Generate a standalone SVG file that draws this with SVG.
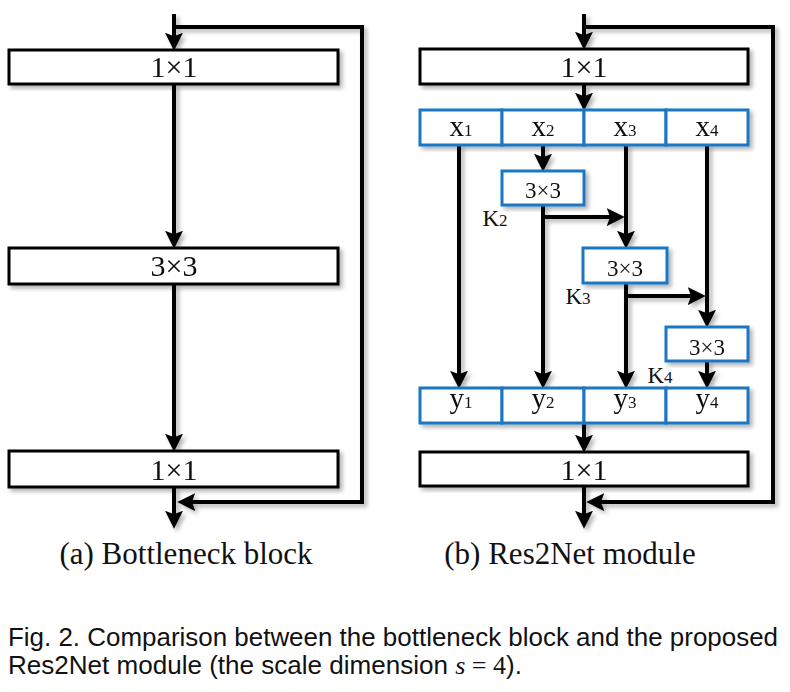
<svg xmlns="http://www.w3.org/2000/svg" width="790" height="692" viewBox="0 0 790 692">
<style>
.box{fill:#fff;stroke:#000;stroke-width:3}
.bbox{fill:#fff;stroke:#1a76c2;stroke-width:3}
.ln{fill:none;stroke:#000;stroke-width:4}
.t{font-family:"Liberation Serif","Times New Roman",serif;fill:#111;text-anchor:middle}
.big{font-size:30px}
.sm{font-size:23px}
.lab{font-size:29px}
.sub{font-size:17px}
.cap{font-family:"Liberation Serif","Times New Roman",serif;font-size:31px;fill:#111;text-anchor:middle}
.fig{font-family:"Liberation Sans",Arial,sans-serif;font-size:25px;fill:#111}
</style>
<defs>
<marker id="ah" markerUnits="userSpaceOnUse" markerWidth="18" markerHeight="18" refX="10" refY="8" orient="auto" viewBox="0 0 16 16">
<path d="M0,0 L16,8 L0,16 L3,8 z" fill="#000"/>
</marker>
<filter id="sh" x="-10%" y="-10%" width="130%" height="130%">
<feDropShadow dx="3" dy="3" stdDeviation="2" flood-color="#000" flood-opacity="0.3"/>
</filter>
</defs>

<g id="connectors" filter="url(#sh)">
<path class="ln" d="M174,14 V44" marker-end="url(#ah)"/>
<path class="ln" d="M174,27 H362 V502 H184" marker-end="url(#ah)"/>
<path class="ln" d="M174,84 V242" marker-end="url(#ah)"/>
<path class="ln" d="M174,284 V445" marker-end="url(#ah)"/>
<path class="ln" d="M174,487 V522" marker-end="url(#ah)"/>

<path class="ln" d="M584,14 V43" marker-end="url(#ah)"/>
<path class="ln" d="M584,27 H773 V502 H593" marker-end="url(#ah)"/>
<path class="ln" d="M584,84 V104" marker-end="url(#ah)"/>
<path class="ln" d="M459,145 V382" marker-end="url(#ah)"/>
<path class="ln" d="M543,145 V165" marker-end="url(#ah)"/>
<path class="ln" d="M543,205 V382" marker-end="url(#ah)"/>
<path class="ln" d="M543,217 H618" marker-end="url(#ah)"/>
<path class="ln" d="M626,145 V242" marker-end="url(#ah)"/>
<path class="ln" d="M626,283 V382" marker-end="url(#ah)"/>
<path class="ln" d="M626,296 H699" marker-end="url(#ah)"/>
<path class="ln" d="M707,145 V321" marker-end="url(#ah)"/>
<path class="ln" d="M707,361 V382" marker-end="url(#ah)"/>
<path class="ln" d="M584,423 V446" marker-end="url(#ah)"/>
<path class="ln" d="M584,486 V522" marker-end="url(#ah)"/>
</g>

<g id="a-conv1" filter="url(#sh)">
<rect class="box" x="9" y="50" width="329" height="34"/>
<text class="t big" x="174" y="77">1×1</text>
</g>
<g id="a-conv3" filter="url(#sh)">
<rect class="box" x="9" y="248" width="329" height="36"/>
<text class="t big" x="174" y="276">3×3</text>
</g>
<g id="a-conv1b" filter="url(#sh)">
<rect class="box" x="9" y="451" width="329" height="36"/>
<text class="t big" x="174" y="480">1×1</text>
</g>

<g id="b-conv1" filter="url(#sh)">
<rect class="box" x="420" y="49" width="328" height="35"/>
<text class="t big" x="584" y="77">1×1</text>
</g>
<g id="b-x" filter="url(#sh)">
<rect class="bbox" x="420" y="110" width="82" height="35"/>
<rect class="bbox" x="502" y="110" width="82" height="35"/>
<rect class="bbox" x="584" y="110" width="82" height="35"/>
<rect class="bbox" x="666" y="110" width="82" height="35"/>
<text class="t lab" x="461" y="136">x<tspan class="sub">1</tspan></text>
<text class="t lab" x="543" y="136">x<tspan class="sub">2</tspan></text>
<text class="t lab" x="625" y="136">x<tspan class="sub">3</tspan></text>
<text class="t lab" x="707" y="136">x<tspan class="sub">4</tspan></text>
</g>
<g id="b-k2" filter="url(#sh)">
<rect class="bbox" x="502" y="171" width="82" height="34"/>
<text class="t sm" x="543" y="198">3×3</text>
</g>
<text class="t sm" x="495" y="226">K<tspan class="sub">2</tspan></text>
<g id="b-k3" filter="url(#sh)">
<rect class="bbox" x="583" y="248" width="84" height="35"/>
<text class="t sm" x="625" y="276">3×3</text>
</g>
<text class="t sm" x="578" y="304">K<tspan class="sub">3</tspan></text>
<g id="b-k4" filter="url(#sh)">
<rect class="bbox" x="666" y="327" width="82" height="34"/>
<text class="t sm" x="707" y="355">3×3</text>
</g>
<text class="t sm" x="660" y="383">K<tspan class="sub">4</tspan></text>
<g id="b-y" filter="url(#sh)">
<rect class="bbox" x="420" y="388" width="82" height="35"/>
<rect class="bbox" x="502" y="388" width="82" height="35"/>
<rect class="bbox" x="584" y="388" width="82" height="35"/>
<rect class="bbox" x="666" y="388" width="82" height="35"/>
<text class="t lab" x="461" y="408">y<tspan class="sub">1</tspan></text>
<text class="t lab" x="543" y="408">y<tspan class="sub">2</tspan></text>
<text class="t lab" x="625" y="408">y<tspan class="sub">3</tspan></text>
<text class="t lab" x="707" y="408">y<tspan class="sub">4</tspan></text>
</g>
<g id="b-conv1b" filter="url(#sh)">
<rect class="box" x="420" y="452" width="328" height="34"/>
<text class="t big" x="584" y="480">1×1</text>
</g>

<text class="cap" x="186" y="564">(a) Bottleneck block</text>
<text class="cap" x="570" y="564">(b) Res2Net module</text>

<text class="fig" x="8" y="646" textLength="770" lengthAdjust="spacingAndGlyphs">Fig. 2. Comparison between the bottleneck block and the proposed</text>
<text class="fig" x="8" y="674" textLength="514" lengthAdjust="spacingAndGlyphs">Res2Net module (the scale dimension <tspan font-family="Liberation Serif,serif" font-style="italic">s</tspan><tspan font-family="Liberation Serif,serif"> = 4</tspan>).</text>
</svg>
